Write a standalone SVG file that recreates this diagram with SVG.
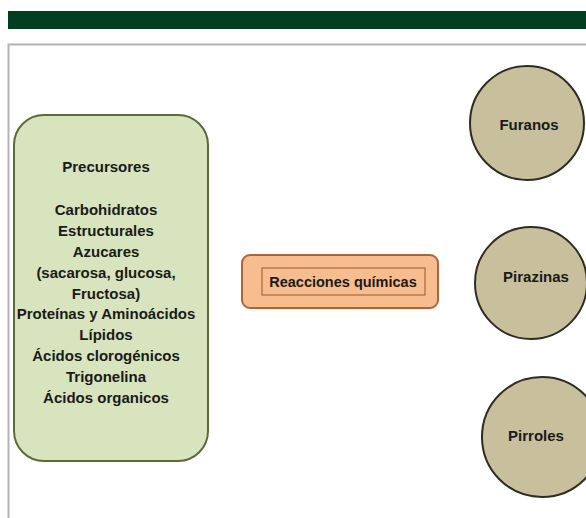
<svg xmlns="http://www.w3.org/2000/svg" width="586" height="518" viewBox="0 0 586 518">
<style>
text{font-family:"Liberation Sans",Arial,sans-serif;font-weight:bold;fill:#1a1a1a;text-anchor:middle}
.lst{font-size:15px}
.circ{fill:#c8bf9c;stroke:#2e2c22;stroke-width:2}
.ct{font-size:15px}
</style>
<rect x="0" y="0" width="586" height="518" fill="#ffffff"/>
<rect x="8" y="11" width="578" height="18" fill="#023f22"/>
<path d="M8.5,518 V44.5 H586" fill="none" stroke="#b3b3b3" stroke-width="2"/>
<g id="connectors"></g>
<g id="precursores">
<rect x="14" y="115" width="194" height="346" rx="30" ry="30" fill="#d7e4bd" stroke="#5b6a3a" stroke-width="2"/>
<text class="lst" x="106" y="172">Precursores</text>
<text class="lst" x="106" y="215">Carbohidratos</text>
<text class="lst" x="106" y="236">Estructurales</text>
<text class="lst" x="106" y="257">Azucares</text>
<text class="lst" x="106" y="278">(sacarosa, glucosa,</text>
<text class="lst" x="106" y="299">Fructosa)</text>
<text class="lst" x="106" y="319">Proteínas y Aminoácidos</text>
<text class="lst" x="106" y="340">Lípidos</text>
<text class="lst" x="106" y="361">Ácidos clorogénicos</text>
<text class="lst" x="106" y="382">Trigonelina</text>
<text class="lst" x="106" y="403">Ácidos organicos</text>
</g>
<g id="reacciones">
<rect x="242" y="255" width="196" height="53" rx="8" ry="8" fill="#f8bd8e" stroke="#a8663a" stroke-width="2"/>
<rect x="262" y="268" width="163" height="27" fill="none" stroke="#a8663a" stroke-width="1.2"/>
<text x="343" y="287" font-size="14.5">Reacciones químicas</text>
</g>
<g id="furanos">
<circle class="circ" cx="527" cy="123" r="57"/>
<text class="ct" x="529" y="130">Furanos</text>
</g>
<g id="pirazinas">
<circle class="circ" cx="531" cy="283" r="56"/>
<text class="ct" x="536" y="282">Pirazinas</text>
</g>
<g id="pirroles">
<circle class="circ" cx="542" cy="437" r="60"/>
<text class="ct" x="536" y="441">Pirroles</text>
</g>
</svg>
